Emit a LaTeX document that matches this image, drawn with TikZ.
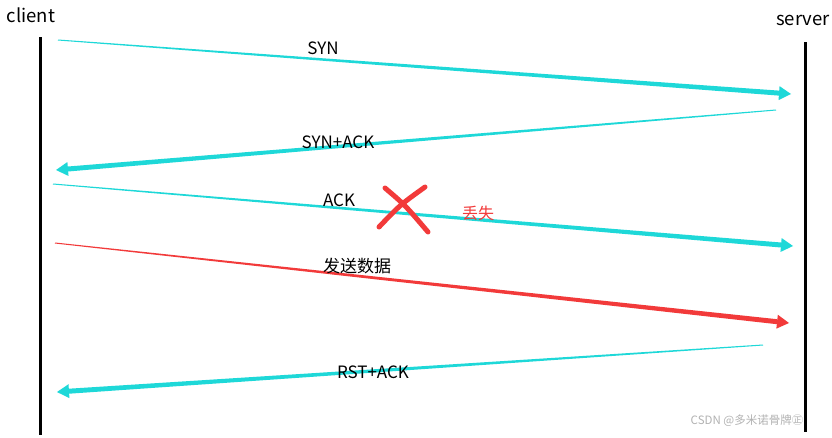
\documentclass[tikz,border=0pt]{standalone}
\usepackage{fontspec}
\setmainfont{Noto Sans CJK SC}
\usetikzlibrary{calc}
\definecolor{cy}{HTML}{1ED8D8}
\definecolor{rd}{HTML}{F23A3A}
\tikzset{
  lifeline/.style={line width=3pt,black},
  lbl/.style={font=\fontsize{17}{17}\selectfont,inner sep=0pt},
  ttl/.style={font=\fontsize{18.5}{18.5}\selectfont,inner sep=0pt},
  cross/.style={rd,line width=5pt,line cap=round},
}
\newcommand\taparrow[3]{%
  \coordinate (tb) at ($(#3)!12pt!(#2)$);
  \fill[#1] ($(#2)!0.5pt!90:(#3)$) -- ($(tb)!2.5pt!-90:(#2)$) -- ($(tb)!2.5pt!90:(#2)$) -- ($(#2)!0.5pt!-90:(#3)$) -- cycle;
  \fill[#1] (#3) -- ($(tb)!7pt!90:(#2)$) -- ($(tb)!7pt!-90:(#2)$) -- cycle;
}
\begin{document}
\begin{tikzpicture}[x=1pt,y=-1pt]
\useasboundingbox[fill=white] (0,0) rectangle (832,437);
% watermark
\node[font=\fontsize{11.5}{11.5}\selectfont,text=black!30,inner sep=0pt] (wm) at (747,421) {CSDN @多米诺骨牌㊣};
% lifelines
\coordinate (c0) at (40,37); \coordinate (c1) at (40,435);
\coordinate (s0) at (805,42); \coordinate (s1) at (805,432);
\draw[lifeline] (c0) -- (c1);
\draw[lifeline] (s0) -- (s1);
\node[ttl] (client) at (31,15) {client};
\node[ttl,anchor=west] (server) at (776,20) {server};
% arrows
\coordinate (a1) at (58,40);  \coordinate (b1) at (791,94);
\coordinate (a2) at (776,110); \coordinate (b2) at (56,170);
\coordinate (a3) at (53,184); \coordinate (b3) at (793,246);
\coordinate (a4) at (55,243); \coordinate (b4) at (789,323);
\coordinate (a5) at (763,345); \coordinate (b5) at (57,392);
\taparrow{cy}{a1}{b1}
\taparrow{cy}{a2}{b2}
\taparrow{cy}{a3}{b3}
\taparrow{rd}{a4}{b4}
\taparrow{cy}{a5}{b5}
% labels
\node[lbl] (l1) at (323,48) {SYN};
\node[lbl] (l2) at (338,142) {SYN+ACK};
\node[lbl] (l3) at (339,200) {ACK};
\node[lbl] (l4) at (357,266) {发送数据};
\node[lbl] (l5) at (373,372) {RST+ACK};
% lost mark
\coordinate (x1) at (385,188); \coordinate (x2) at (428,232);
\coordinate (x3) at (425,187); \coordinate (x4) at (379,227);
\draw[cross] (x1) .. controls (405,205) .. (x2);
\draw[cross] (x3) .. controls (400,205) .. (x4);
\node[lbl,font=\fontsize{16}{16}\selectfont,text=rd] (lost) at (478,213) {丢失};
\end{tikzpicture}
\end{document}
